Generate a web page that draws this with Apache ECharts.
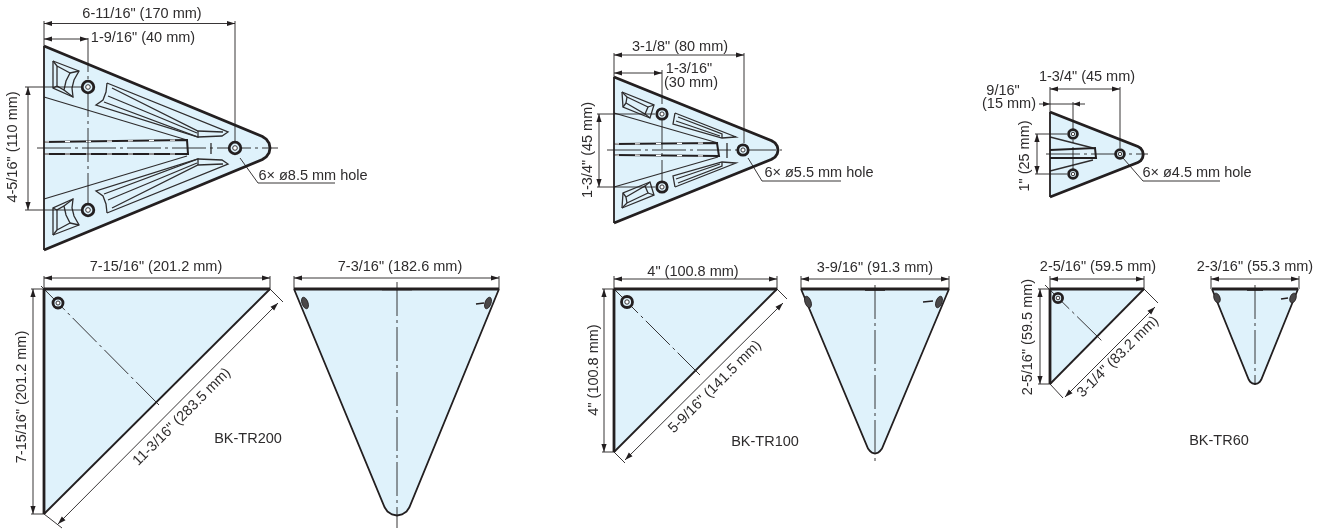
<!DOCTYPE html>
<html><head><meta charset="utf-8">
<style>html,body{margin:0;padding:0;background:#fff}#c{width:1325px;height:530px}</style>
<script src="https://cdn.jsdelivr.net/npm/echarts@6/dist/echarts.min.js"></script>
</head><body><div id="c"></div>
<script>
const INK = '#231f20', FILL = '#dff2fb', TEXT = '#2e2c2d';
const mirror = (pts, cy) => pts.map(p => [p[0], 2 * cy - p[1]]);

// ---- Outlines of plates (filled) ----
const top200 = [[44,46],[262.4,136.5],[266.3,139.2],[269.1,143.3],[270,148],[269.1,152.7],[266.3,156.8],[262.4,159.5],[44,250]];
const top100 = [[614,77],[771.7,140.7],[775.1,142.9],[777.3,146.3],[778,150],[777.3,153.7],[775.1,157.1],[771.7,159.3],[614,223]];
const top60  = [[1050,112],[1137.8,146.4],[1140.7,148.3],[1142.6,151.2],[1143.2,154.5],[1142.6,157.8],[1140.7,160.7],[1137.8,162.6],[1050,197]];
const tri200 = [[44,289],[270,289],[44,514]];
const tri100 = [[614,289],[777,289],[614,452]];
const tri60  = [[1050,289],[1144,289],[1050,384]];
const fan200 = [[294,289],[499,289],[409.4,507.3],[406.5,511.5],[402,514.5],[397,515.5],[392,514.5],[387.5,511.5],[384.6,507.3]];
const fan100 = [[801,289],[949,289],[882,448.5],[880,451],[878,452.7],[875,453.5],[872,452.7],[870,451],[868,448.5]];
const fan60  = [[1212,289],[1298,289],[1261.3,379.5],[1259.8,381.8],[1257.6,383.4],[1255,384],[1252.4,383.4],[1250.2,381.8],[1248.7,379.5]];
const plates = [top200, top100, top60, tri200, tri100, tri60, fan200, fan100, fan60];

// ---- Heavy strokes ----
const heavyLines = [
  top200, top100, top60,
  [[44,289],[270,289]], [[44,289],[44,514]],
  [[614,289],[777,289]], [[614,289],[614,452]],
  [[1050,289],[1144,289]], [[1050,289],[1050,384]],
  [[294,289],[499,289]], [[801,289],[949,289]], [[1212,289],[1298,289]]
];
// ---- Medium strokes ----
const mediumLines = [
  [[270,289],[44,514]], [[777,289],[614,452]], [[1144,289],[1050,384]],
  fan200.slice(1).concat([[294,289]]), fan100.slice(1).concat([[801,289]]), fan60.slice(1).concat([[1212,289]]),
  [[44,46],[44,250]], [[614,77],[614,223]], [[1050,112],[1050,197]]
];

// ---- Stamped pockets, upper half; lower half is the mirror ----
const pock200 = [
  [[53,61],[79,71],[74,80],[72,88],[73,97],[53,88],[53,61]],
  [[57,66],[70,73],[66,81],[64,90],[57,86],[57,66]],
  [[53,61],[57,66]], [[79,71],[70,73]], [[73,97],[64,90]], [[53,88],[57,86]],
  [[107,83],[228,132],[222,136],[198,137],[96,105],[103,100],[106,92],[107,83]],
  [[112,88],[198,131],[223,132]], [[108,96],[197,133]], [[104,102],[198,137],[198,131]]
];
const pock100 = [
  [[622,92],[654,105],[650,118],[623,107],[622,92]],
  [[627,97],[648,107],[645,114],[626,103],[627,97]],
  [[622,92],[627,97]], [[654,105],[648,107]], [[650,118],[645,114]], [[623,107],[626,103]],
  [[675,113],[736,137],[722,138],[673,124],[675,113]],
  [[678,117],[722,134],[722,138]], [[676,121],[720,136]]
];
const slots = [
  [[44,142],[187,140],[188,154],[44,154]],
  [[614,144],[717,143],[719,156],[614,155]],
  [[1050,150],[1095,148],[1096,158],[1050,158]]
];
const slotGaps = [
  [[44,142],[187,140]], [[44,154],[188,154]],
  [[614,144],[717,143]], [[614,155],[719,156]]
];
const mids = [
  ...pock200, ...pock200.map(p => mirror(p, 148)),
  ...pock100, ...pock100.map(p => mirror(p, 150)),
  [[211,143],[211,154]], [[727,143],[727,158]],
  [[44,97],[187,140]], [[44,199],[187,156]],
  [[614,113],[718,143]], [[614,187],[718,157]],
  [[1050,137],[1093,148]], [[1050,171],[1093,160]]
];

// ---- Thin dimension extension lines and leaders ----
const thinLines = [
  [[44,21],[44,46]], [[235,21],[235,142]], [[25,87],[83,87]], [[25,210],[83,210]],
  [[44,276],[44,289]], [[270,276],[270,289]], [[31,289],[44,289]], [[31,514],[44,514]],
  [[270,289],[283,302]], [[44,514],[62,528]],
  [[294,276],[294,289]], [[499,276],[499,289]],
  [[240,158],[258,183],[335,183]],
  [[614,53],[614,77]], [[744,53],[744,143]], [[597,114],[655,114]], [[597,187],[655,187]],
  [[614,276],[614,289]], [[777,276],[777,289]], [[602,289],[614,289]], [[602,452],[614,452]],
  [[777,289],[787,299]], [[614,452],[625,463]],
  [[801,276],[801,289]], [[949,276],[949,289]],
  [[748,158],[762,181],[841,181]],
  [[1050,87],[1050,112]], [[1120,87],[1120,148]], [[1035,134],[1067,134]], [[1035,174],[1067,174]],
  [[1050,104],[1073,104]],
  [[1050,276],[1050,289]], [[1144,276],[1144,289]], [[1038,289],[1050,289]], [[1038,384],[1050,384]],
  [[1144,289],[1158,303]], [[1050,384],[1063,398]],
  [[1211,276],[1211,289]], [[1299,276],[1299,289]],
  [[1123,158],[1143,181],[1220,181]]
];

// ---- Chain (centre) lines ----
const chainLines = [
  [[37,148],[278,148]], [[88,38],[88,210]],
  [[41,286],[159,405]], [[397,282],[397,528]],
  [[607,150],[782,150]], [[662,70],[662,187]],
  [[614,289],[700,375]], [[875,285],[875,462]],
  [[1046,154],[1148,154]], [[1073,102],[1073,174]],
  [[1045,285],[1103,342]], [[1255,285],[1255,385]]
];

// ---- Arrowed dimension lines: x1, y1, x2, y2 ----
const dimLines = [
  [44,23.5,235,23.5], [44,39,88,39], [28,87,28,210],
  [44,278,270,278], [33,289,33,514], [278,303,58,524], [294,278,499,278],
  [614,55,744,55], [614,73,662,73], [599,114,599,187],
  [614,279,777,279], [604,289,604,452], [783,303,625,460], [801,279,949,279],
  [1050,89,1120,89], [1037,134,1037,174],
  [1050,279,1144,279], [1040,289,1040,384], [1155,307,1065,397], [1211,279,1299,279]
];
// Outside-arrow pairs: tail, head
const outerArrows = [[1039,104,1050,104], [1085,104,1073,104]];

// ---- Mounting holes: x, y, radius ----
const holes = [
  [88,87,5.8],[235,148,5.8],[88,210,5.8],[58,303,5],
  [662,114,5.2],[743,150,5.2],[662,187,5.2],[627,302,5.5],
  [1073,134,4.4],[1120,154,4.4],[1073,174,4.4],[1058,298,4.6]
];
// ---- Small side-view marks: x, y, rx, ry ----
const marks = [
  [305,303,3,6],[488,303,3,6],[808,302,3,6],[939,302,3,6],[1217,298,3,5],[1293,298,3,5]
];
const tinyDashes = [
  [[476,304],[484,303]], [[923,302],[933,301]], [[1281,299],[1288,298]],
  [[382,289.5],[412,289.5]], [[865,290],[885,290]], [[1247,290],[1263,290]]
];

// ---- Labels: text, x, y, rotation degrees ----
const labels = [
  ['6-11/16" (170 mm)',142,14,0], ['1-9/16" (40 mm)',143,38,0], ['4-5/16" (110 mm)',13,147,90],
  ['6× ø8.5 mm hole',313,176,0],
  ['7-15/16" (201.2 mm)',156,267,0], ['7-15/16" (201.2 mm)',22,397,90], ['11-3/16" (283.5 mm)',182,417,45],
  ['BK-TR200',248,439,0], ['7-3/16" (182.6 mm)',400,267,0],
  ['3-1/8" (80 mm)',680,47,0], ['1-3/16"',689,69,0], ['(30 mm)',691,83,0], ['1-3/4" (45 mm)',588,150,90],
  ['6× ø5.5 mm hole',819,173,0],
  ['4" (100.8 mm)',693,272,0], ['4" (100.8 mm)',594,370,90], ['5-9/16" (141.5 mm)',715,387,45],
  ['BK-TR100',765,442,0], ['3-9/16" (91.3 mm)',875,268,0],
  ['1-3/4" (45 mm)',1087,77,0], ['9/16"',1003,91,0], ['(15 mm)',1009,104,0], ['1" (25 mm)',1025,156,90],
  ['6× ø4.5 mm hole',1197,173,0],
  ['2-5/16" (59.5 mm)',1098,267,0], ['2-5/16" (59.5 mm)',1028,337,90], ['3-1/4" (83.2 mm)',1118,357,45],
  ['BK-TR60',1219,441,0], ['2-3/16" (55.3 mm)',1255,267,0]
];

// ---- Series helpers ----
const idx = a => a.map((_, i) => [i]);
const pts = (api, arr) => arr.map(p => api.coord(p));
function polys(name, arr, style, z) {
  return { type:'custom', name, coordinateSystem:'cartesian2d', silent:true, z, clip:false, data:idx(arr),
    encode:{x:0,y:0}, renderItem:(p, api) => ({ type:'polyline', shape:{points:pts(api, arr[api.value(0)])},
      style:Object.assign({fill:null}, style) }) };
}
function arrowHead(tip, from, L, W) {
  const dx = tip[0]-from[0], dy = tip[1]-from[1], d = Math.hypot(dx,dy)||1, ux = dx/d, uy = dy/d;
  return { type:'polygon', shape:{points:[tip,
    [tip[0]-ux*L-uy*W, tip[1]-uy*L+ux*W], [tip[0]-ux*L+uy*W, tip[1]-uy*L-ux*W]]},
    style:{fill:INK} };
}
const series = [
  { type:'custom', name:'plates', coordinateSystem:'cartesian2d', silent:true, z:1, clip:false, data:idx(plates), encode:{x:0,y:0},
    renderItem:(p, api) => ({ type:'polygon', shape:{points:pts(api, plates[api.value(0)])}, style:{fill:FILL} }) },
  polys('mids', mids, {stroke:'#2f2d2e', lineWidth:1.3}, 2),
  polys('slots', slots, {stroke:INK, lineWidth:2}, 2),
  polys('slotGaps', slotGaps, {stroke:'#ffffff', lineWidth:1.2, lineDash:[5,16]}, 2.5),
  polys('medium', mediumLines, {stroke:INK, lineWidth:1.8}, 3),
  polys('heavy', heavyLines, {stroke:INK, lineWidth:2.8}, 4),
  polys('thin', thinLines, {stroke:INK, lineWidth:0.9}, 5),
  polys('chain', chainLines, {stroke:INK, lineWidth:0.9, lineDash:[34,4,3,4]}, 5),
  polys('tiny', tinyDashes, {stroke:INK, lineWidth:1.6}, 5),
  { type:'custom', name:'dims', coordinateSystem:'cartesian2d', silent:true, z:6, clip:false, data:idx(dimLines), encode:{x:0,y:0},
    renderItem:(p, api) => { const d = dimLines[api.value(0)], a = api.coord([d[0],d[1]]), b = api.coord([d[2],d[3]]);
      return { type:'group', children:[
        { type:'line', shape:{x1:a[0],y1:a[1],x2:b[0],y2:b[1]}, style:{stroke:INK, lineWidth:0.9} },
        arrowHead(a,b,8,2.6), arrowHead(b,a,8,2.6)] }; } },
  { type:'custom', name:'outer', coordinateSystem:'cartesian2d', silent:true, z:6, clip:false, data:idx(outerArrows), encode:{x:0,y:0},
    renderItem:(p, api) => { const d = outerArrows[api.value(0)], a = api.coord([d[0],d[1]]), b = api.coord([d[2],d[3]]);
      return { type:'group', children:[
        { type:'line', shape:{x1:a[0],y1:a[1],x2:b[0],y2:b[1]}, style:{stroke:INK, lineWidth:0.9} },
        arrowHead(b,a,7,2.4)] }; } },
  { type:'custom', name:'holes', coordinateSystem:'cartesian2d', silent:true, z:7, clip:false, data:idx(holes), encode:{x:0,y:0},
    renderItem:(p, api) => { const h = holes[api.value(0)], c = api.coord([h[0],h[1]]);
      return { type:'group', children:[
        { type:'circle', shape:{cx:c[0],cy:c[1],r:h[2]}, style:{fill:FILL, stroke:INK, lineWidth:2.8} },
        { type:'circle', shape:{cx:c[0],cy:c[1],r:h[2]*0.4}, style:{fill:'#fff', stroke:INK, lineWidth:0.9} }] }; } },
  { type:'custom', name:'marks', coordinateSystem:'cartesian2d', silent:true, z:7, clip:false, data:idx(marks), encode:{x:0,y:0},
    renderItem:(p, api) => { const m = marks[api.value(0)], c = api.coord([m[0],m[1]]);
      return { type:'ellipse', shape:{cx:0,cy:0,rx:m[2],ry:m[3]}, x:c[0], y:c[1],
        rotation:(api.value(0)%2?-1:1)*0.35,
        style:{fill:'#4a4849', stroke:INK, lineWidth:0.8} }; } },
  { type:'custom', name:'labels', coordinateSystem:'cartesian2d', silent:true, z:8, clip:false, data:idx(labels), encode:{x:0,y:0},
    renderItem:(p, api) => { const l = labels[api.value(0)], c = api.coord([l[1],l[2]]);
      return { type:'text', x:c[0], y:c[1], rotation:l[3]*Math.PI/180,
        style:{text:l[0], x:0, y:0, align:'center', verticalAlign:'middle', fill:TEXT,
               font:'14.5px "Liberation Sans", Arial, sans-serif'} }; } }
];

const chart = echarts.init(document.getElementById('c'), null, {renderer:'canvas', width:1325, height:530});
chart.setOption({
  animation:false, backgroundColor:'#fff',
  grid:{left:0, right:0, top:0, bottom:0},
  xAxis:{type:'value', min:0, max:1325, show:false},
  yAxis:{type:'value', min:0, max:530, inverse:true, show:false},
  series
});
</script></body></html>
